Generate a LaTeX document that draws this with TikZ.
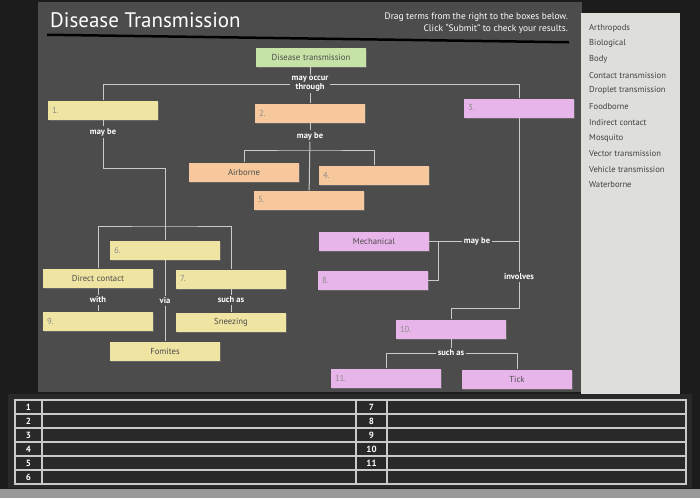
\documentclass[tikz,border=0pt]{standalone}
\usepackage{fontspec}
\setmainfont{PT Sans}
\usetikzlibrary{shadows}
\definecolor{screenblack}{HTML}{1C1C1C}
\definecolor{panelgray}{HTML}{4C4C4C}
\definecolor{tabledark}{HTML}{292929}
\definecolor{listgray}{HTML}{DEDEDA}
\definecolor{linegray}{HTML}{CACACA}
\definecolor{termgreen}{HTML}{C6E2A6}
\definecolor{termyellow}{HTML}{EFE4A1}
\definecolor{termpeach}{HTML}{F6C89B}
\definecolor{termpink}{HTML}{E8B5EA}
\tikzset{
	term/.style={minimum height=19pt, inner xsep=4pt, text width=102pt, font=\fontsize{8.7}{9}\selectfont, text=black!70, drop shadow={shadow xshift=1pt, shadow yshift=-1.5pt, opacity=.5}},
	blank/.style={term, align=left, text=black!45},
	filled/.style={term, align=center},
	link/.style={text=white, font=\bfseries\fontsize{8.5}{9}\selectfont, inner sep=1.5pt, align=center},
	conn/.style={draw=linegray, line width=1pt},
}

\begin{document}
\begin{tikzpicture}[x=1pt,y=-1pt]
			%%%%% SCREEN %%%%%
			
			\fill[screenblack] (0,0) rectangle (700,498);
			\fill[panelgray] (38,2) rectangle (582,392);
			\fill[tabledark] (8,394) rectangle (692,488);
			\fill[black!40] (0,489) rectangle (700,498);
			\fill[black] (47,33.5) -- (569,41) -- (569,43.5) -- (47,36) -- cycle;
			
			\node[anchor=base west, text=white, font=\fontsize{21}{24}\selectfont, inner sep=0pt] (title) at (50,27) {Disease Transmission};
			\node[anchor=north east, text=white, align=right, font=\fontsize{9.4}{12}\selectfont, inner sep=0pt] (hint) at (568,13) {Drag terms from the right to the boxes below.\\Click “Submit” to check your results.};
			
			%%%%% TERMS %%%%%
			
			\fill[listgray] (581,13) rectangle (680,394);
			\foreach \term [count=\i] in {Arthropods,Biological,Body,Contact transmission,Droplet transmission,Foodborne,Indirect contact,Mosquito,Vector transmission,Vehicle transmission,Waterborne}
				\node[anchor=west, inner sep=0pt, text=black!75, font=\fontsize{8.6}{9}\selectfont] (list\i) at (589,12.3+15.7*\i) {\term};
			
			%%%%% MAP %%%%%
			
			\node[filled, fill=termgreen] (dt) at (311,57) {Disease transmission};
			\node[blank, fill=termyellow] (b1) at (103,110) {1.};
			\node[blank, fill=termpeach] (b2) at (310,113) {2.};
			\node[blank, fill=termpink] (b3) at (519,108) {3.};
			\node[filled, fill=termpeach] (air) at (244,172) {Airborne};
			\node[blank, fill=termpeach] (b4) at (374,175) {4.};
			\node[blank, fill=termpeach] (b5) at (309,200) {5.};
			\node[filled, fill=termpink] (mech) at (374,241) {Mechanical};
			\node[blank, fill=termpink] (b8) at (373,280) {8.};
			\node[blank, fill=termpink] (b10) at (451,329) {10.};
			\node[blank, fill=termpink] (b11) at (386,378) {11.};
			\node[filled, fill=termpink] (tick) at (517,379) {Tick};
			\node[blank, fill=termyellow] (b6) at (165,250) {6.};
			\node[filled, fill=termyellow] (dc) at (98,278) {Direct contact};
			\node[blank, fill=termyellow] (b7) at (231,279) {7.};
			\node[blank, fill=termyellow] (b9) at (98,321) {9.};
			\node[filled, fill=termyellow] (snz) at (231,322) {Sneezing};
			\node[filled, fill=termyellow] (fom) at (165,351) {Fomites};
			
			\node[link] (occ) at (310,84) {may occur\\through};
			\node[link] (mb1) at (103,132) {may be};
			\node[link] (mb2) at (310,136) {may be};
			\node[link] (mb3) at (477,241) {may be};
			\node[link] (inv) at (519,277) {involves};
			\node[link] (with) at (98,300) {with};
			\node[link] (via) at (165,301) {via};
			\node[link] (sa7) at (231,300) {such as};
			\node[link] (sa10) at (451,353) {such as};
			
			\coordinate (k1) at (103,168);
			\coordinate (k2) at (310,150);
			\coordinate (k3) at (519,241);
			\coordinate (k6) at (165,226);
			\coordinate (k8) at (438,241);
			\coordinate (k10) at (519,308);
			
			\draw[conn] (dt) -- (occ);
			\draw[conn] (occ) -- (b2);
			\draw[conn] (occ.west) -| (b1.north);
			\draw[conn] (occ.east) -| (b3.north);
			
			\draw[conn] (b1) -- (mb1);
			\draw[conn] (mb1) -- (k1) -| (b6.north);
			\draw[conn] (dc.north) |- (k6) -| (b7.north);
			\draw[conn] (dc) -- (with);
			\draw[conn] (with) -- (b9);
			\draw[conn] (b6) -- (via);
			\draw[conn] (via) -- (fom);
			\draw[conn] (b7) -- (sa7);
			\draw[conn] (sa7) -- (snz);
			
			\draw[conn] (b2) -- (mb2);
			\draw[conn] (mb2) -- (b5);
			\draw[conn] (air.north) |- (k2) -| (b4.north);
			
			\draw[conn] (b3) -- (inv);
			\draw[conn] (k3) -- (mb3);
			\draw[conn] (mb3) -- (mech);
			\draw[conn] (k8) |- (b8.east);
			\draw[conn] (inv) -- (k10) -| (b10.north);
			\draw[conn] (b10) -- (sa10);
			\draw[conn] (sa10.west) -| (b11.north);
			\draw[conn] (sa10.east) -| (tick.north);
			
			%%%%% TABLE %%%%%
			
			\draw[linegray, line width=1.2pt] (15,400) rectangle (686,484);
			\foreach \r in {1,...,5}
				\draw[linegray, line width=1.2pt] (15,400+14*\r) -- (686,400+14*\r);
			\foreach \c in {42,356,387}
				\draw[linegray, line width=1.2pt] (\c,400) -- (\c,484);
			\foreach \n in {1,...,6}
				\node[text=white, font=\bfseries\fontsize{9}{9}\selectfont] (row\n) at (28.5,393+14*\n) {\n};
			\foreach \n in {7,...,11}
				\node[text=white, font=\bfseries\fontsize{9}{9}\selectfont] (row\n) at (371.5,309+14*\n) {\n};
			
			%%%%% END %%%%%
\end{tikzpicture}
\end{document}
